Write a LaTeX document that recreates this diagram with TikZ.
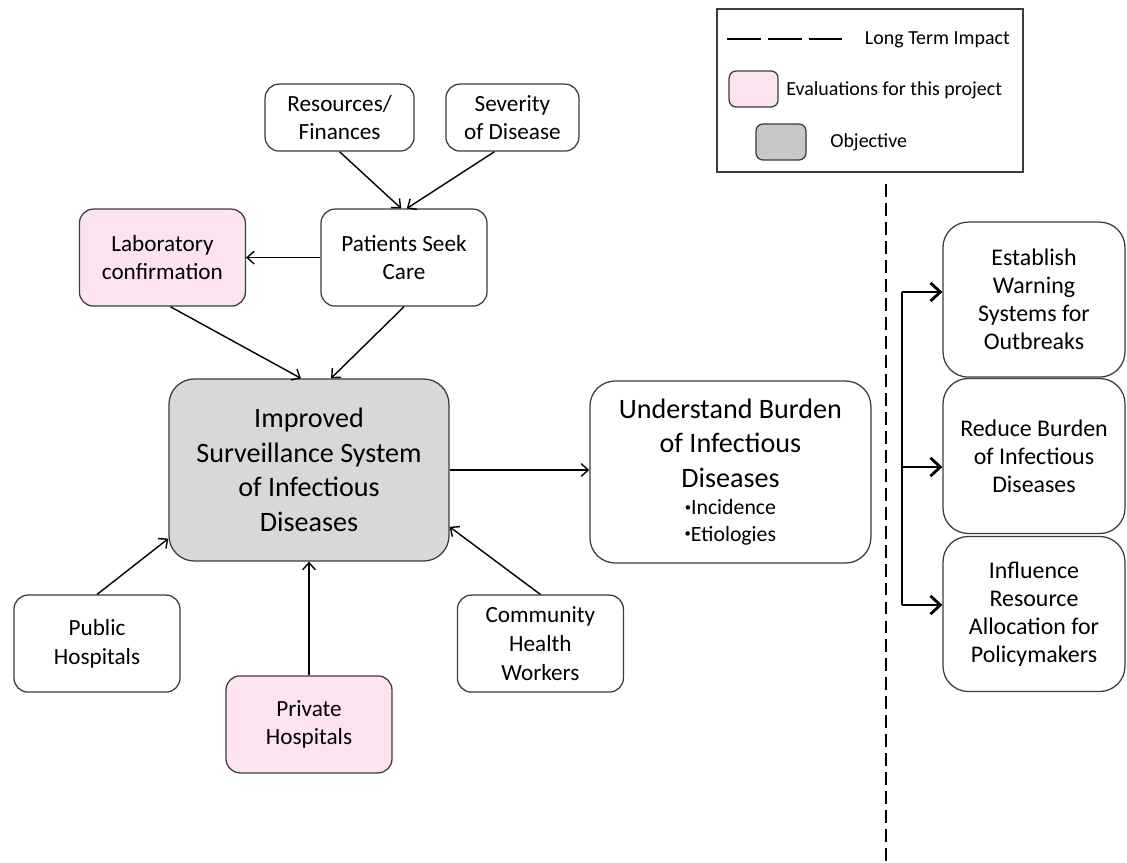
\documentclass[tikz,border=0pt]{standalone}
\usepackage{fontspec}
\setmainfont{Carlito}
\usetikzlibrary{arrows.meta}

\definecolor{evalpink}{RGB}{251,228,240}
\definecolor{objgray}{RGB}{216,216,216}
\definecolor{keygray}{RGB}{200,200,200}
\definecolor{edgegray}{RGB}{60,60,60}

\newcommand{\tinybullet}{{\fontsize{9}{9}\selectfont\raisebox{2.5pt}{\textbullet}}}

\tikzset{
  box/.style={draw=edgegray,line width=0.9pt,rounded corners=10pt,align=center,inner sep=2pt,
    minimum width=4.15cm,minimum height=2.425cm,font=\fontsize{16.5}{20.5}\selectfont},
  evalbox/.style={box,fill=evalpink},
  objbox/.style={box,fill=objgray,rounded corners=18pt,font=\fontsize{20}{24.5}\selectfont},
  impactbox/.style={box,rounded corners=18pt,minimum width=4.55cm,minimum height=3.875cm,
    font=\fontsize{17}{20}\selectfont},
  keytext/.style={inner sep=0pt,font=\fontsize{14.2}{17}\selectfont},
  link/.style={line width=1pt,-{Straight Barb[length=5pt,width=9pt]}},
  fork/.style={line width=2pt,-{Straight Barb[length=7pt,width=13pt]}},
}

\begin{document}
\begin{tikzpicture}
\useasboundingbox (0,0) rectangle (28.175,-21.575);

% legend
\draw[draw=edgegray,line width=0.8pt] (17.925,-0.225) rectangle (25.575,-4.3);
\draw[line width=1.6pt,dash pattern=on 24pt off 5pt] (18.175,-0.975) -- (21.1,-0.975);
\node[keytext,anchor=east] (keyimpact) at (25.25,-1.0) {Long Term Impact};
\node[box,fill=evalpink,rounded corners=5pt,minimum width=1.225cm,minimum height=0.9cm] (keyeval) at (18.84,-2.225) {};
\node[keytext,anchor=west] (keyevaltext) at (19.65,-2.25) {Evaluations for this project};
\node[box,fill=keygray,rounded corners=5pt,minimum width=1.25cm,minimum height=0.9cm] (keyobj) at (19.525,-3.55) {};
\node[keytext,anchor=west] (keyobjtext) at (20.75,-3.55) {Objective};

% long term impact divider
\draw[line width=2pt,dash pattern=on 9.2pt off 4.3pt] (22.15,-4.6) -- (22.15,-21.575);

% boxes
\node[box,minimum width=3.725cm,minimum height=1.675cm] (res) at (8.49,-2.94) {Resources/\\Finances};
\node[box,minimum width=3.325cm,minimum height=1.675cm] (sev) at (12.81,-2.94) {Severity\\of Disease};
\node[box] (pat) at (10.1,-6.44) {Patients Seek\\Care};
\node[evalbox] (lab) at (4.06,-6.44) {Laboratory\\confirmation};
\node[objbox,minimum width=7cm,minimum height=4.55cm] (imp) at (7.725,-11.75) {Improved\\Surveillance System\\of Infectious\\Diseases};
\node[box,rounded corners=18pt,minimum width=7.025cm,minimum height=4.55cm,font=\fontsize{20}{24.5}\selectfont] (und) at (18.26,-11.8)
  {Understand Burden\\of Infectious\\Diseases\\[-5pt]\fontsize{15.5}{19}\selectfont\tinybullet Incidence\\[-5.7pt]\fontsize{15.5}{19}\selectfont\tinybullet Etiologies};
\node[box] (pub) at (2.425,-16.09) {Public\\Hospitals};
\node[evalbox] (pri) at (7.725,-18.11) {Private\\Hospitals};
\node[box] (com) at (13.51,-16.09) {Community\\Health\\Workers};
\node[impactbox] (est) at (25.85,-7.49) {Establish\\Warning\\Systems for\\Outbreaks};
\node[impactbox] (red) at (25.85,-11.4) {Reduce Burden\\of Infectious\\Diseases};
\node[impactbox] (inf) at (25.85,-15.35) {Influence\\Resource\\Allocation for\\Policymakers};

% arrows
\draw[link] (res.south) -- ([xshift=-2pt]pat.north);
\draw[link] ([xshift=-0.45cm]sev.south) -- ([xshift=2pt]pat.north);
\draw[link] (pat.west) -- (lab.east);
\draw[link] ([xshift=0.2cm]lab.south) -- ([xshift=-0.2cm]imp.north);
\draw[link] (pat.south) -- ([xshift=0.55cm]imp.north);
\draw[link] (imp.east) -- (imp.east -| und.west);
\draw[link] (pub.north) -- (imp.206);
\draw[link] (pri.north) -- (imp.south);
\draw[link] (com.north) -- (imp.338);

% fork to impacts
\coordinate (f1) at (22.55,-7.3);
\coordinate (f2) at (22.55,-11.675);
\coordinate (f3) at (22.55,-15.125);
\draw[line width=2pt] (f1) -- (f3);
\draw[fork] (f1) -- (f1 -| est.west);
\draw[fork] (f2) -- (f2 -| red.west);
\draw[fork] (f3) -- (f3 -| inf.west);
\end{tikzpicture}
\end{document}
